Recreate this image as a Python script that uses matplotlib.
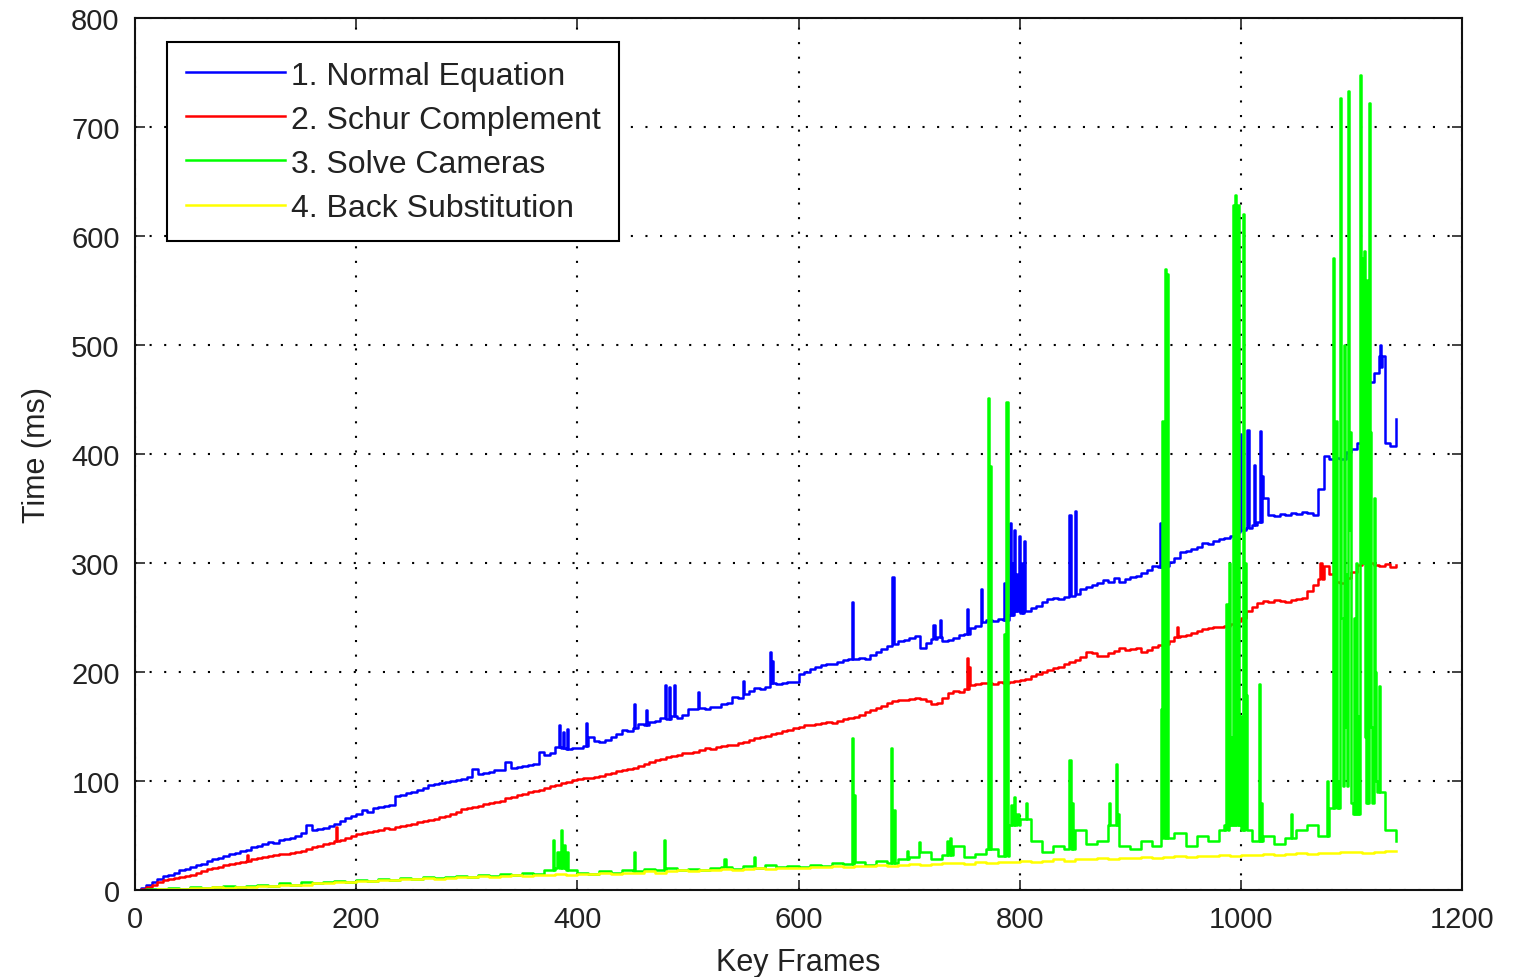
import matplotlib
matplotlib.use("Agg")
import matplotlib.pyplot as plt

# ---------------- data ----------------
# base samples every 5 key frames (0..1140) for series 1 and 2
frames5 = list(range(0, 1141, 5))
normal_eq = [
    0, 2, 5, 7, 10, 13, 14, 16, 18, 19,
    21, 23, 24, 27, 28, 29, 31, 33, 34, 36,
    37, 39, 40, 42, 44, 43, 46, 47, 48, 50,
    52, 60, 55, 56, 57, 59, 61, 63, 66, 68,
    70, 73, 72, 75, 76, 77, 78, 86, 87, 89,
    90, 92, 94, 96, 97, 98, 99, 100, 101, 102,
    104, 111, 106, 107, 108, 110, 110, 117, 112, 113,
    114, 115, 116, 127, 124, 126, 131, 130, 129, 130,
    130, 132, 140, 137, 136, 138, 140, 143, 147, 146,
    149, 152, 151, 154, 155, 158, 157, 160, 158, 161,
    166, 166, 167, 166, 168, 168, 171, 172, 177, 176,
    180, 183, 185, 184, 186, 190, 189, 190, 191, 191,
    198, 200, 203, 205, 206, 207, 207, 209, 211, 212,
    212, 213, 212, 216, 218, 221, 224, 226, 228, 229,
    231, 233, 222, 227, 230, 232, 228, 229, 231, 234,
    235, 240, 242, 246, 248, 247, 249, 248, 252, 256,
    254, 256, 259, 261, 264, 267, 268, 267, 269, 270,
    272, 276, 278, 280, 282, 284, 283, 286, 283, 285,
    287, 288, 291, 294, 297, 296, 297, 301, 305, 310,
    311, 313, 315, 318, 317, 320, 322, 323, 325, 328,
    330, 332, 335, 338, 360, 344, 343, 345, 344, 346,
    345, 347, 346, 344, 368, 398, 395, 396, 395, 402,
    405, 410, 445, 466, 474, 490, 410, 407, 432,
]
schur = [
    0, 1, 3, 5, 7, 9, 10, 11, 12, 13,
    14, 16, 17, 19, 20, 21, 23, 24, 25, 26,
    27, 28, 29, 30, 31, 32, 33, 33, 34, 35,
    36, 38, 39, 40, 42, 43, 45, 46, 48, 50,
    51, 52, 53, 54, 55, 57, 56, 58, 59, 60,
    61, 62, 63, 64, 65, 67, 68, 70, 72, 74,
    75, 76, 77, 79, 80, 81, 82, 84, 85, 87,
    88, 90, 91, 92, 94, 95, 96, 98, 99, 101,
    102, 103, 103, 104, 105, 106, 107, 109, 110, 111,
    112, 114, 116, 117, 119, 120, 122, 123, 124, 126,
    126, 127, 128, 130, 129, 131, 132, 133, 133, 135,
    136, 138, 139, 140, 141, 143, 144, 146, 147, 149,
    150, 151, 151, 152, 153, 154, 153, 155, 157, 158,
    159, 161, 163, 165, 167, 169, 172, 173, 174, 174,
    175, 176, 175, 173, 171, 172, 176, 181, 183, 182,
    184, 188, 189, 190, 190, 189, 191, 190, 191, 192,
    193, 194, 196, 198, 200, 202, 204, 205, 207, 209,
    211, 214, 218, 217, 215, 215, 217, 219, 222, 220,
    221, 222, 218, 220, 223, 225, 226, 228, 232, 233,
    234, 236, 238, 239, 240, 241, 241, 242, 244, 247,
    250, 256, 260, 263, 265, 264, 266, 265, 264, 266,
    267, 268, 274, 280, 285, 297, 290, 283, 282, 286,
    292, 298, 305, 300, 298, 297, 299, 296, 298,
]
# base samples every 10 key frames (0..1140) for series 3 and 4
frames10 = list(range(0, 1141, 10))
solve_cams = [
    0, 1, 1, 2, 1, 3, 2, 3, 4, 3,
    4, 5, 4, 6, 5, 7, 6, 7, 8, 7,
    9, 8, 10, 9, 11, 10, 12, 11, 12, 13,
    12, 14, 13, 15, 14, 16, 15, 18, 20, 18,
    16, 15, 17, 16, 18, 17, 19, 18, 20, 18,
    19, 18, 20, 21, 19, 22, 20, 23, 21, 22,
    21, 23, 22, 25, 24, 26, 23, 27, 25, 28,
    30, 35, 28, 32, 40, 30, 33, 38, 31, 60,
    65, 45, 35, 40, 38, 55, 42, 45, 60, 40,
    38, 45, 40, 48, 52, 40, 50, 45, 55, 60,
    55, 45, 50, 42, 48, 55, 60, 50, 75, 95,
    70, 80, 90, 55, 45,
]
back_sub = [
    0, 0, 1, 1, 1, 2, 2, 3, 2, 3,
    3, 4, 4, 5, 5, 5, 6, 6, 7, 7,
    8, 8, 9, 9, 10, 10, 11, 10, 11, 12,
    12, 13, 12, 13, 14, 13, 14, 14, 15, 14,
    15, 15, 16, 15, 16, 16, 17, 16, 17, 18,
    17, 18, 18, 19, 18, 19, 20, 19, 20, 20,
    20, 21, 21, 22, 21, 22, 22, 23, 22, 23,
    24, 23, 24, 25, 25, 24, 26, 25, 26, 26,
    27, 26, 27, 28, 27, 28, 28, 29, 28, 29,
    29, 30, 29, 30, 31, 30, 31, 31, 32, 31,
    32, 32, 33, 32, 33, 34, 33, 34, 34, 35,
    35, 34, 35, 36, 36,
]
# single-frame peaks (frame, ms)
normal_eq_peaks = [
    (383, 151), (387, 145), (391, 148), (408, 153), (451, 171), (462, 165),
    (479, 188), (483, 186), (487, 188), (509, 182), (550, 192), (574, 218),
    (576, 210), (648, 264), (685, 287), (722, 243), (728, 248), (752, 258),
    (765, 276), (786, 282), (791, 337), (793, 300), (795, 330), (797, 290),
    (799, 325), (802, 300), (804, 320), (845, 344), (850, 348), (927, 337),
    (995, 420), (997, 360), (999, 418), (1006, 422), (1012, 390),
    (1017, 421), (1019, 380), (1126, 500), (1127, 480),
]
schur_peaks = [(101, 32), (182, 58), (752, 213), (754, 205), (942, 241),
               (1072, 300), (1110, 310)]
solve_cams_peaks = [
    (378, 46), (382, 35), (385, 55), (388, 41), (391, 35), (451, 35),
    (478, 46), (533, 28), (560, 30), (648, 139), (650, 87), (684, 130),
    (686, 73), (698, 36), (709, 44), (734, 45), (737, 48), (771, 451),
    (773, 389), (786, 235), (788, 448), (792, 78), (795, 85), (798, 70),
    (806, 80), (845, 119), (847, 80), (881, 80), (887, 116), (889, 70),
    (928, 166), (929, 430), (931, 570), (933, 565), (985, 60), (987, 262),
    (989, 300), (991, 140), (993, 628), (995, 638), (997, 628), (999, 160),
    (1002, 620), (1004, 300), (1005, 179), (1016, 189), (1018, 80),
    (1045, 70), (1078, 100), (1083, 580), (1085, 300), (1086, 430),
    (1088, 100), (1090, 727), (1091, 250), (1093, 500), (1094, 150),
    (1095, 290), (1097, 733), (1098, 330), (1099, 420), (1100, 80),
    (1102, 250), (1104, 300), (1106, 160), (1108, 748), (1109, 580),
    (1110, 300), (1111, 586), (1112, 140), (1114, 560), (1116, 722),
    (1117, 420), (1118, 150), (1120, 360), (1121, 200), (1122, 100),
    (1125, 187),
]
back_sub_peaks = []

labels = ["1. Normal Equation", "2. Schur Complement",
          "3. Solve Cameras", "4. Back Substitution"]
colors = ["#0000ff", "#ff0000", "#00ff00", "#ffff00"]
x_ticks = [0, 200, 400, 600, 800, 1000, 1200]
y_ticks = [0, 100, 200, 300, 400, 500, 600, 700, 800]


def merge(frames, base, peaks):
    pts = dict(zip(frames, base))
    peak_keys = {f for f, _ in peaks}
    for f, v in peaks:
        prev = max(g for g in frames if g <= f)
        if f + 1 not in peak_keys:
            pts.setdefault(f + 1, pts[prev])
    for f, v in peaks:
        pts[f] = v
    xs = sorted(pts)
    return xs, [pts[k] for k in xs]


series = [
    merge(frames5, normal_eq, normal_eq_peaks),
    merge(frames5, schur, schur_peaks),
    merge(frames10, solve_cams, solve_cams_peaks),
    merge(frames10, back_sub, back_sub_peaks),
]

# ---------------- plot ----------------
plt.rcParams['font.family'] = ['Liberation Sans', 'DejaVu Sans']
fig = plt.figure(figsize=(15.19, 9.78), dpi=100)
ax = fig.add_axes([135 / 1519, 1 - 891 / 978, 1327 / 1519, 872 / 978])

for (xs, ys), lab, col in zip(series, labels, colors):
    ax.plot(xs, ys, color=col, lw=1.8, drawstyle='steps-post', label=lab)

ax.set_xlim(0, 1200)
ax.set_ylim(0, 800)
ax.set_xticks(x_ticks)
ax.set_yticks(y_ticks)
ax.tick_params(direction='in', length=7, width=1.2, top=True, right=True,
               labelsize=21, pad=11, colors='#222222')
for sp in ax.spines.values():
    sp.set_linewidth(1.5)
    sp.set_color('#111111')
ax.grid(True, color='black', linestyle=(0, (1, 6)), linewidth=1.5)
ax.set_axisbelow(True)

ax.set_xlabel("Key Frames", fontsize=22, labelpad=10, color='#222222')
ax.set_ylabel("Time (ms)", fontsize=22, labelpad=14, color='#222222')

leg = ax.legend(loc='upper left', bbox_to_anchor=(32 / 1327, 1 - 24 / 872),
                borderaxespad=0, fontsize=23, handlelength=3.1,
                handletextpad=0.2, labelspacing=0.44, borderpad=0.58,
                fancybox=False, framealpha=1, edgecolor='black')
leg.get_frame().set_linewidth(1.5)
for t in leg.get_texts():
    t.set_color('#222222')

fig.savefig("out.png", dpi=100)
